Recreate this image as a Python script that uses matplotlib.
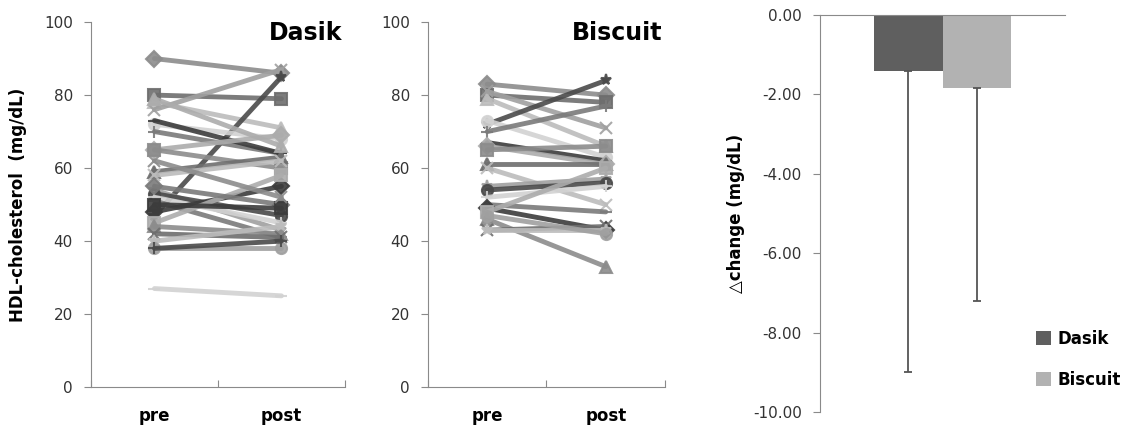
import numpy as np
import matplotlib
matplotlib.use("Agg")
import matplotlib.pyplot as plt
from matplotlib.ticker import FormatStrFormatter

# HDL values per subject (pre, post)
dasik_pre = [90, 80, 78, 76, 47, 72, 70, 73, 65, 65, 59, 58, 54, 53, 52, 51, 48, 45, 44, 42, 40, 38, 38, 27, 55, 50, 79, 62]
dasik_post = [86, 79, 71, 87, 85, 68, 64, 64, 69, 60, 63, 62, 43, 47, 45, 41, 55, 58, 42, 41, 44, 38, 40, 25, 50, 49, 66, 52]
biscuit_pre = [83, 80, 79, 81, 72, 73, 70, 67, 66, 65, 61, 60, 55, 54, 52, 50, 49, 48, 46, 43, 43, 47]
biscuit_post = [80, 78, 66, 71, 84, 63, 77, 62, 61, 66, 61, 50, 57, 56, 55, 48, 43, 60, 33, 44, 43, 42]
timepoints = ["pre", "post"]

groups = ["Dasik", "Biscuit"]
change_mean = [-1.40, -1.85]
change_sd = [7.6, 5.35]
bar_colors = ["#5f5f5f", "#b2b2b2"]

markers = ["D", "s", "^", "x", "*", "o", "+", "_"]
grays = ["#8c8c8c", "#6e6e6e", "#bcbcbc", "#a0a0a0", "#4a4a4a", "#d2d2d2", "#7a7a7a", "#3c3c3c", "#acacac"]

fig = plt.figure(figsize=(11.37, 4.33), dpi=100)
spine_col = "#8a8a8a"
tick_col = "#333333"


def spaghetti(ax, pre, post, title):
    for i, (a, b) in enumerate(zip(pre, post)):
        ax.plot([0.5, 1.5], [a, b], color=grays[i % len(grays)],
                marker=markers[i % len(markers)], markersize=8, linewidth=3.5,
                markeredgewidth=1.5, alpha=0.9, solid_capstyle="round")
    ax.set_xlim(0, 2)
    ax.set_ylim(0, 100)
    ax.set_yticks(range(0, 101, 20))
    ax.set_xticks([0, 1, 2])
    ax.set_xticklabels([])
    ax.set_xticks([0.5, 1.5], minor=True)
    ax.set_xticklabels(timepoints, minor=True, fontsize=12, fontweight="bold")
    ax.tick_params(axis="x", which="minor", length=0, pad=14)
    ax.tick_params(axis="x", which="major", length=5, color=spine_col, direction="in")
    ax.tick_params(axis="y", length=5, color=spine_col, labelsize=11, labelcolor=tick_col, pad=8)
    for s in ["top", "right"]:
        ax.spines[s].set_visible(False)
    for s in ["left", "bottom"]:
        ax.spines[s].set_color(spine_col)
    ax.text(1.98, 97, title, ha="right", va="center", fontsize=17, fontweight="bold")


ax1 = fig.add_axes([0.080, 0.106, 0.2234, 0.843])
spaghetti(ax1, dasik_pre, dasik_post, "Dasik")
ax1.set_ylabel("HDL-cholesterol  (mg/dL)", fontsize=12, fontweight="bold", labelpad=12)

ax2 = fig.add_axes([0.3764, 0.106, 0.2085, 0.843])
spaghetti(ax2, biscuit_pre, biscuit_post, "Biscuit")

ax3 = fig.add_axes([0.7212, 0.0485, 0.2155, 0.917])
w = 0.28
xs = [0.5 - w / 2, 0.5 + w / 2]
for x, m, sd, c, g in zip(xs, change_mean, change_sd, bar_colors, groups):
    ax3.bar(x, m, width=w, color=c, label=g)
    ax3.errorbar(x, m, yerr=[[sd], [0]], color="#555555", capsize=3, linewidth=1.3, capthick=1.3)
ax3.set_xlim(0, 1)
ax3.set_ylim(-10, 0)
ax3.set_yticks(np.arange(-10, 0.1, 2))
ax3.yaxis.set_major_formatter(FormatStrFormatter("%.2f"))
ax3.set_xticks([])
ax3.tick_params(axis="y", length=5, color=spine_col, labelsize=11, labelcolor=tick_col, pad=8)
for s in ["bottom", "right"]:
    ax3.spines[s].set_visible(False)
for s in ["left", "top"]:
    ax3.spines[s].set_color(spine_col)
ax3.set_ylabel("\u25b3change (mg/dL)", fontsize=12, fontweight="bold", labelpad=6)
leg = ax3.legend(loc="lower left", bbox_to_anchor=(0.82, 0.02), frameon=False,
                 prop={"weight": "bold", "size": 12}, handlelength=0.9, handleheight=0.9,
                 handletextpad=0.4, labelspacing=1.4)

fig.savefig("out.png", dpi=100)
